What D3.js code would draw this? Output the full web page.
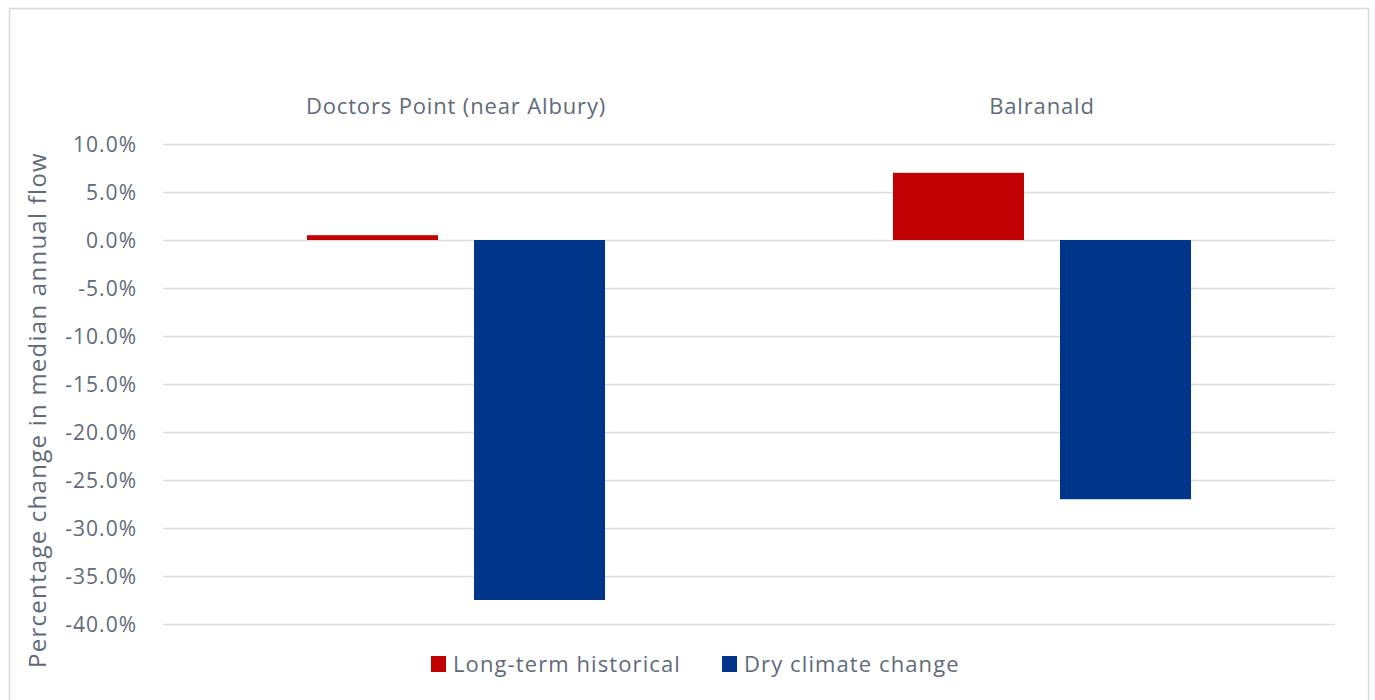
<!DOCTYPE html>
<html>
<head>
<meta charset="utf-8">
<script src="https://cdn.jsdelivr.net/npm/d3@7"></script>
<style>
  html, body { margin: 0; padding: 0; background: #fff; }
  svg { display: block; }
  text { font-family: "Open Sans", sans-serif; fill: #5f6b7a; }
</style>
</head>
<body>
<script>
// Flow change data by site and scenario
const sites = ["Doctors Point (near Albury)", "Balranald"];
const seriesNames = ["Long-term historical", "Dry climate change"];
const longTermHistorical = [0.5, 7.0];
const dryClimateChange = [-37.5, -27.0];
const seriesColors = ["#c00000", "#003689"];
const yTicks = [10, 5, 0, -5, -10, -15, -20, -25, -30, -35, -40];

const W = 1375, H = 700;
const plotLeft = 163, plotRight = 1335, plotTop = 144, plotBottom = 624;

const svg = d3.select("body").append("svg").attr("width", W).attr("height", H);

// outer frame
svg.append("rect")
  .attr("x", 9.5).attr("y", 8.5).attr("width", 1359).attr("height", 700)
  .attr("fill", "none").attr("stroke", "#d9d9d9").attr("stroke-width", 1.5);

const y = d3.scaleLinear().domain([-40, 10]).range([plotBottom, plotTop]);
const x0 = d3.scaleBand().domain(sites).range([plotLeft, plotRight]).paddingInner(0).paddingOuter(0);
const x1 = d3.scaleBand().domain(seriesNames).range([0, x0.bandwidth()]).paddingInner(0.2156).paddingOuter(0.862);

// gridlines and tick labels
const fmt = d => d3.format(".1f")(d).replace("\u2212", "-") + "%";
const yAxis = d3.axisLeft(y).tickValues(yTicks).tickSize(-(plotRight - plotLeft)).tickFormat(fmt);
const gy = svg.append("g").attr("transform", `translate(${plotLeft},0)`).call(yAxis);
gy.select(".domain").remove();
gy.selectAll(".tick line").attr("stroke", "#d9dde3").attr("stroke-width", 1.5);
gy.selectAll(".tick text")
  .attr("x", -26).attr("dy", "0.35em")
  .style("font-size", "21px").style("letter-spacing", "1px")
  .style("font-family", "'Open Sans', sans-serif").attr("fill", "#5f6b7a");

// bars
const rows = sites.map((s, i) => ({ site: s, values: [longTermHistorical[i], dryClimateChange[i]] }));
const grp = svg.append("g").selectAll("g").data(rows).join("g")
  .attr("transform", d => `translate(${x0(d.site)},0)`);
grp.selectAll("rect").data(d => d.values.map((v, j) => ({ name: seriesNames[j], v, j })))
  .join("rect")
  .attr("x", d => x1(d.name))
  .attr("width", x1.bandwidth())
  .attr("y", d => y(Math.max(0, d.v)))
  .attr("height", d => Math.abs(y(d.v) - y(0)))
  .attr("fill", d => seriesColors[d.j]);

// site labels above the plot
svg.append("g").selectAll("text").data(sites).join("text")
  .attr("x", d => x0(d) + x0.bandwidth() / 2)
  .attr("y", 114)
  .attr("text-anchor", "middle")
  .style("font-size", "22px").style("letter-spacing", "0.85px")
  .text(d => d);

// y-axis title
svg.append("text")
  .attr("transform", `translate(46,${(152 + 668) / 2}) rotate(-90)`)
  .attr("text-anchor", "middle")
  .style("font-size", "24px").style("letter-spacing", "1.25px")
  .text("Percentage change in median annual flow");

// legend
const legendX = [431, 722];
const lg = svg.append("g").selectAll("g").data(seriesNames).join("g")
  .attr("transform", (d, i) => `translate(${legendX[i]},656)`);
lg.append("rect").attr("width", 15).attr("height", 16).attr("fill", (d, i) => seriesColors[i]);
lg.append("text").attr("x", 22).attr("y", 16)
  .style("font-size", "22px").style("letter-spacing", "1.1px").text(d => d);
</script>
</body>
</html>
